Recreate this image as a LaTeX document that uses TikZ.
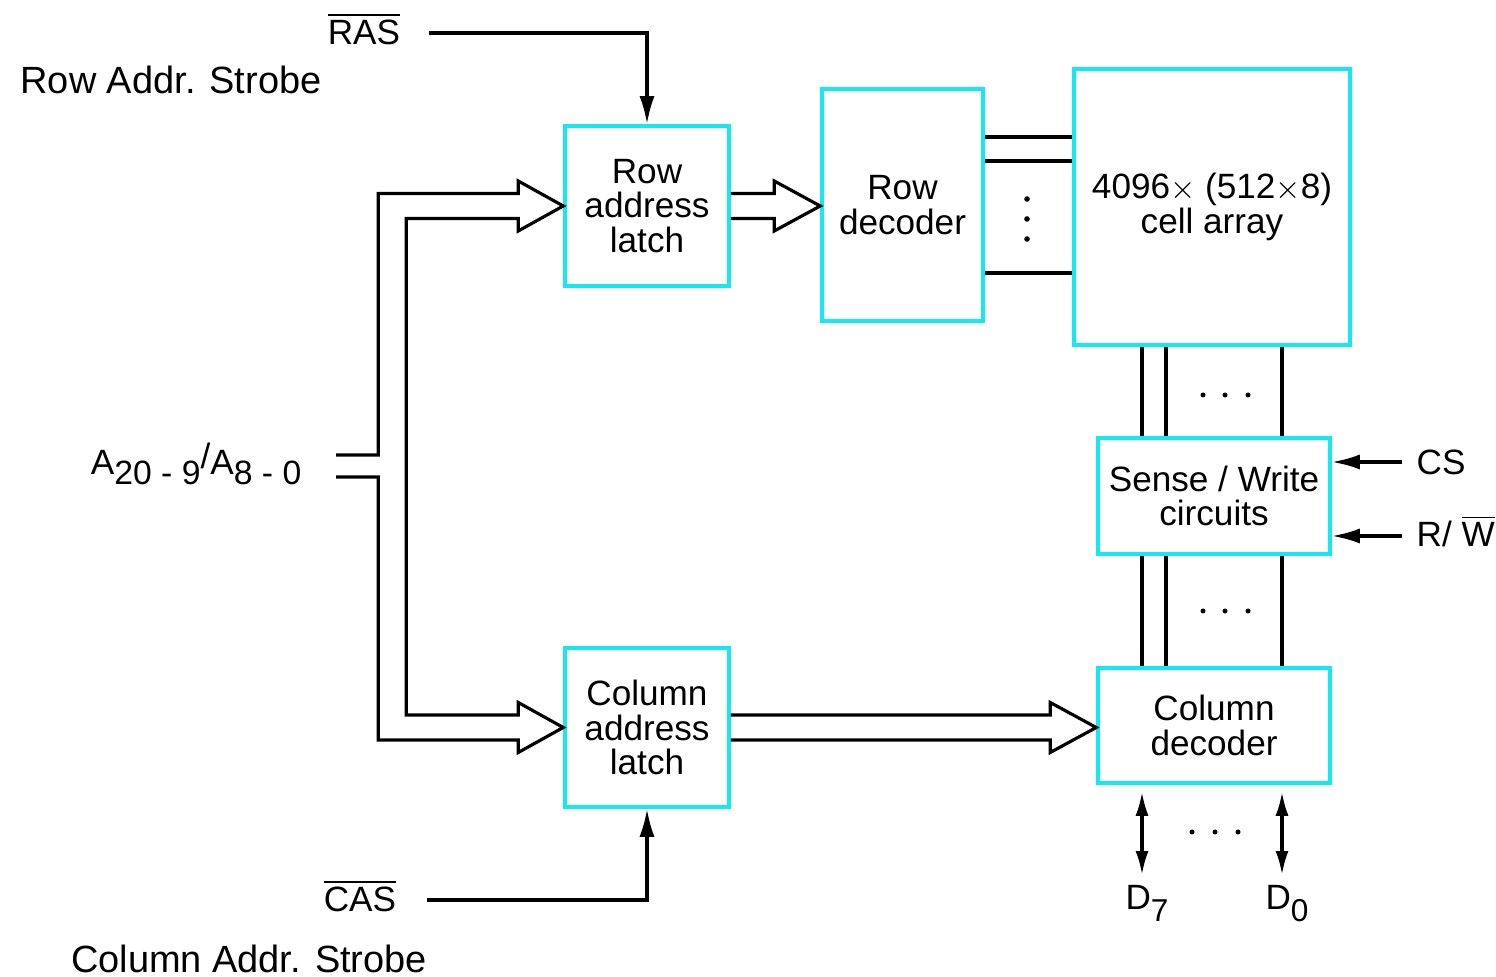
\documentclass[tikz,border=0pt]{standalone}
\usepackage{fontspec}
\setmainfont{Liberation Sans}
\usetikzlibrary{arrows.meta, calc}

\definecolor{boxcyan}{RGB}{20,232,242}
\newcommand{\blkfont}{\fontsize{10}{9.8}\selectfont}
\newcommand{\lblfont}{\fontsize{10.8}{12}\selectfont}

% hollow block arrow from an anchor to the tip anchor
\newcommand{\hollowarrow}[2]{%
  \draw[bus] ($(#1)+(0,0.125)$) -- ($(#2)+(-0.46,0.125)$) -- ++(0,0.125) -- (#2)
    -- ++(-0.46,-0.25) -- ++(0,0.125) -- ($(#1)+(0,-0.125)$);}

\begin{document}
\begin{tikzpicture}[scale=1.0,
    box/.style={draw=boxcyan, line width=1pt, inner sep=0pt, align=center, font=\blkfont},
    lbl/.style={inner sep=0pt, font=\blkfont},
    wire/.style={line width=0.9pt},
    bus/.style={line width=0.9pt, line join=miter},
    sig/.style={line width=0.9pt, -{Latex[length=2.8mm,width=1.5mm]}},
    dat/.style={line width=0.9pt, {Latex[length=2.4mm,width=1.3mm]}-{Latex[length=2.4mm,width=1.3mm]}}]
	\useasboundingbox (0,0) rectangle (14.96,9.76);

	% Blocks
	\node[box, minimum width=1.64cm, minimum height=1.60cm] (rlatch) at (6.47,7.70) {Row\\address\\latch};
	\node[box, minimum width=1.61cm, minimum height=2.32cm] (rdec) at (9.025,7.71) {Row\\decoder};
	\node[box, minimum width=2.76cm, minimum height=2.76cm] (cells) at (12.12,7.69) {4096{\small$\times$} (512{\small$\times$}8)\\cell array};
	\node[box, minimum width=2.32cm, minimum height=1.16cm] (sense) at (12.14,4.80) {Sense / Write\\circuits};
	\node[box, minimum width=2.32cm, minimum height=1.15cm] (cdec) at (12.14,2.505) {Column\\decoder};
	\node[box, minimum width=1.64cm, minimum height=1.59cm] (clatch) at (6.47,2.485) {Column\\address\\latch};

	% Strobes
	\node[lbl, font=\lblfont] (rasname) at (1.71,8.96) {Row Addr. Strobe};
	\node[lbl] (ras) at (3.64,9.47) {$\overline{\mbox{RAS}}$};
	\draw[sig] ([xshift=2.8mm,yshift=-0.4mm]ras.east) -| (rlatch.north);
	\node[lbl, font=\lblfont] (casname) at (2.49,0.17) {Column Addr. Strobe};
	\node[lbl] (cas) at (3.60,0.80) {$\overline{\mbox{CAS}}$};
	\draw[sig] ([xshift=3.0mm,yshift=-0.4mm]cas.east) -| (clatch.south);

	% Address bus
	\coordinate (abus) at (3.36,5.10);
	\node[lbl, anchor=east] (addr) at (3.02,5.12) {A\raisebox{-0.55ex}{\fontsize{9.6}{9.6}\selectfont 20 - 9}\raisebox{0.3ex}{\fontsize{10}{10}\selectfont /}A\raisebox{-0.55ex}{\fontsize{9.6}{9.6}\selectfont 8 - 0}};
	\draw[bus] ($(abus)+(0,0.11)$) -| ($(rlatch.west)+(-1.85,0.125)$)
		-- ($(rlatch.west)+(-0.45,0.125)$) -- ++(0,0.125) -- (rlatch.west) -- ++(-0.45,-0.25) -- ++(0,0.125)
		-- ($(rlatch.west)+(-1.57,-0.125)$) |- ($(clatch.west)+(-0.45,0.125)$)
		-- ++(0,0.125) -- (clatch.west) -- ++(-0.45,-0.25) -- ++(0,0.125)
		-- ($(clatch.west)+(-1.85,-0.125)$) |- ($(abus)+(0,-0.11)$);

	% Latch to decoder
	\hollowarrow{rlatch.east}{rdec.west |- rlatch.east}
	\hollowarrow{clatch.east}{cdec.west |- clatch.east}

	% Word lines
	\foreach \y in {8.39,8.15,7.03}
		\draw[wire] (rdec.east |- 0,\y) -- (cells.west |- 0,\y);
	\foreach \y in {7.77,7.57,7.37}
		\fill (10.27,\y) circle (0.028);

	% Bit lines
	\foreach \x in {11.42,11.66,12.82} {
		\draw[wire] (cells.south -| \x,0) -- (sense.north -| \x,0);
		\draw[wire] (sense.south -| \x,0) -- (cdec.north -| \x,0);
	}
	\foreach \x in {12.03,12.25,12.48} {
		\fill (\x,5.81) circle (0.025);
		\fill (\x,3.65) circle (0.025);
	}

	% Control inputs
	\node[lbl, anchor=west, inner sep=0.14cm] (cs) at (14.02,5.14) {CS};
	\node[lbl, anchor=west, inner sep=0.14cm] (rw) at (14.02,4.45) {R/ $\overline{\mbox{W}}$};
	\draw[sig] (cs.west) -- (cs.west -| sense.east);
	\draw[sig] ([yshift=-0.5mm]rw.west) -- ([yshift=-0.5mm]rw.west -| sense.east);

	% Data lines
	\coordinate (d7) at (11.42,1.01);
	\coordinate (d0) at (12.82,1.01);
	\draw[dat] ([yshift=-0.7mm]cdec.south -| d7) -- (d7);
	\draw[dat] ([yshift=-0.7mm]cdec.south -| d0) -- (d0);
	\node[lbl, anchor=north, inner sep=0.1cm, xshift=0.5mm] (d7l) at (d7) {D\raisebox{-0.6ex}{\fontsize{9}{9}\selectfont 7}};
	\node[lbl, anchor=north, inner sep=0.1cm, xshift=0.5mm] (d0l) at (d0) {D\raisebox{-0.6ex}{\fontsize{9}{9}\selectfont 0}};
	\foreach \x in {11.92,12.15,12.38}
		\fill (\x,1.44) circle (0.025);
\end{tikzpicture}
\end{document}
